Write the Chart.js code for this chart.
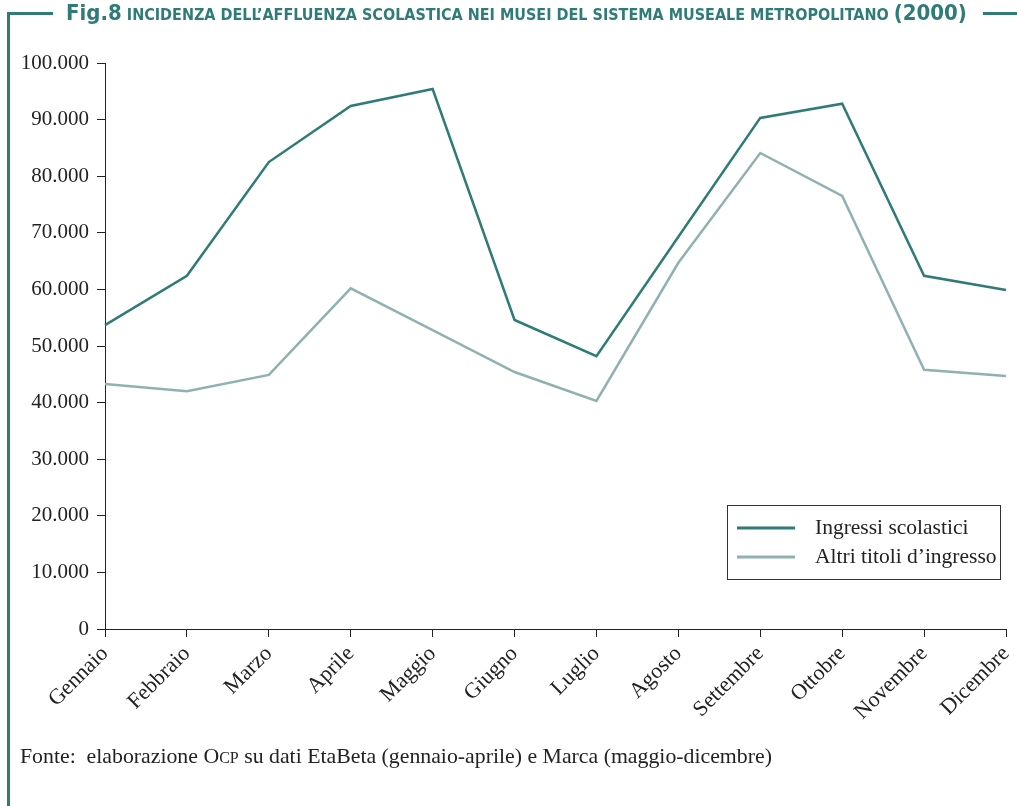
<!DOCTYPE html>
<html>
<head>
<meta charset="utf-8">
<script src="https://cdn.jsdelivr.net/npm/chart.js@4/dist/chart.umd.min.js"></script>
<style>
  body { margin: 0; background: #fff; }
  #wrap { position: relative; width: 1017px; height: 806px; overflow: hidden; }
  #chart { position: absolute; left: 0; top: 0; }
  .rule { position: absolute; background: #2e7b78; }
  #title {
    position: absolute; left: 66px; top: -1px; white-space: nowrap;
    font-family: "DejaVu Sans Condensed", "DejaVu Sans", sans-serif; font-weight: bold;
    color: #2e7b78; font-size: 16px; line-height: 28px;
  }
  #title .big { font-size: 22px; }
  #source {
    position: absolute; left: 20px; top: 744px; white-space: nowrap;
    font-family: "Liberation Serif", serif; font-size: 21.8px; color: #222;
  }
  #source .sc { font-size: 16px; }
</style>
</head>
<body>
<div id="wrap">
  <canvas id="chart" width="1017" height="806"></canvas>
  <div class="rule" style="left:7px; top:12px; width:46px; height:3px;"></div>
  <div class="rule" style="left:7px; top:12px; width:3px; height:794px;"></div>
  <div class="rule" style="left:983px; top:12px; width:34px; height:3px;"></div>
  <div id="title"><span class="big">Fig.8</span> INCIDENZA DELL’AFFLUENZA SCOLASTICA NEI MUSEI DEL SISTEMA MUSEALE METROPOLITANO <span class="big">(2000)</span></div>
  <div id="source">Fonte:&nbsp; elaborazione O<span class="sc">CP</span> su dati EtaBeta (gennaio-aprile) e Marca (maggio-dicembre)</div>
</div>
<script>
const months = ["Gennaio", "Febbraio", "Marzo", "Aprile", "Maggio", "Giugno", "Luglio", "Agosto", "Settembre", "Ottobre", "Novembre", "Dicembre"];
const ingressiScolastici = [53700, 62400, 82500, 92400, 95400, 54600, 48200, 69300, 90300, 92800, 62400, 59900];
const altriTitoli = [43300, 42000, 44900, 60200, 52800, 45400, 40300, 64700, 84100, 76500, 45800, 44700];
const seriesNames = ["Ingressi scolastici", "Altri titoli d’ingresso"];
const seriesColors = ["#2e7b78", "#8fb2b1"];

const serif = "'Liberation Serif', 'DejaVu Serif', serif";

// legend box drawn inside the plot, like the original
const boxLegend = {
  id: "boxLegend",
  afterDraw(chart) {
    const ctx = chart.ctx;
    const x = 727, y = 505, w = 273, h = 74;
    ctx.save();
    ctx.fillStyle = "#fff";
    ctx.fillRect(x, y, w, h);
    ctx.strokeStyle = "#333";
    ctx.lineWidth = 1;
    ctx.strokeRect(x + 0.5, y + 0.5, w, h);
    ctx.font = "21.5px " + serif;
    ctx.textBaseline = "middle";
    chart.data.datasets.forEach((ds, i) => {
      const ly = y + 23 + i * 29;
      ctx.strokeStyle = ds.borderColor;
      ctx.lineWidth = 3;
      ctx.beginPath();
      ctx.moveTo(x + 10, ly);
      ctx.lineTo(x + 68, ly);
      ctx.stroke();
      ctx.fillStyle = "#222";
      ctx.fillText(ds.label, x + 88, ly);
    });
    ctx.restore();
  }
};

new Chart(document.getElementById("chart"), {
  type: "line",
  data: {
    labels: months,
    datasets: [
      { label: seriesNames[0], data: ingressiScolastici, borderColor: seriesColors[0], borderWidth: 2.5, pointRadius: 0, tension: 0 },
      { label: seriesNames[1], data: altriTitoli, borderColor: seriesColors[1], borderWidth: 2.5, pointRadius: 0, tension: 0 }
    ]
  },
  options: {
    responsive: false,
    animation: false,
    layout: { padding: { left: 0, top: 63, right: 11, bottom: 0 } },
    plugins: { legend: { display: false }, tooltip: { enabled: false } },
    scales: {
      x: {
        offset: false,
        afterFit: s => { s.height = 177; s.paddingLeft = 0; s.paddingRight = 0; },
        border: { display: true, color: "#222", width: 1 },
        grid: { display: true, drawOnChartArea: false, drawTicks: true, tickLength: 8, color: "#222" },
        ticks: { font: { family: serif, size: 22 }, color: "#222", minRotation: 45, maxRotation: 45, padding: 4, autoSkip: false }
      },
      y: {
        min: 0, max: 100000,
        afterFit: s => { s.width = 105; s.paddingTop = 0; s.paddingBottom = 0; },
        border: { display: true, color: "#222", width: 1 },
        grid: { display: true, drawOnChartArea: false, drawTicks: true, tickLength: 8, color: "#222" },
        ticks: {
          stepSize: 10000, font: { family: serif, size: 21 }, color: "#222", padding: 8,
          callback: v => v === 0 ? "0" : v.toLocaleString("it-IT").replace(/,/g, ".")
        }
      }
    }
  },
  plugins: [boxLegend]
});
</script>
</body>
</html>
